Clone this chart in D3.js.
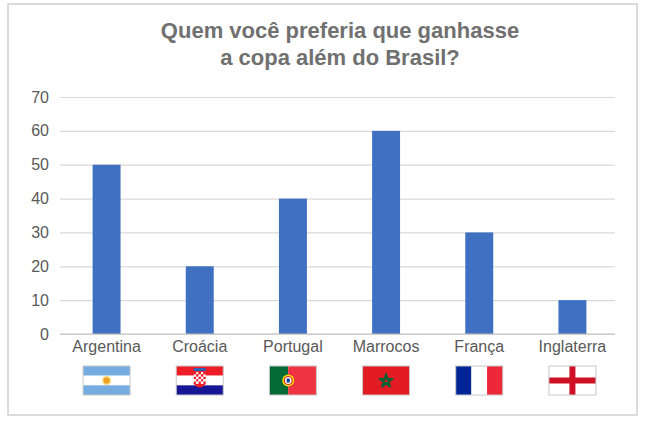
<!doctype html>
<html>
<head>
  <script src="https://cdnjs.cloudflare.com/ajax/libs/d3/7.8.5/d3.min.js"></script>
  <style>
    body { margin: 0; background: #fff; }
    text { font-family: "Liberation Sans", Arial, sans-serif; }
  </style>
</head>
<body>
  <svg id="chart" width="648" height="421"></svg>
  <script>
    var categories = ["Argentina", "Croácia", "Portugal", "Marrocos", "França", "Inglaterra"];
    var values = [50, 20, 40, 60, 30, 10];
    var yTicks = [0, 10, 20, 30, 40, 50, 60, 70];
    var titleLines = ["Quem você preferia que ganhasse", "a copa além do Brasil?"];

    var svg = d3.select("#chart");

    // outer frame
    svg.append("rect")
      .attr("x", 8).attr("y", 4).attr("width", 629).attr("height", 411)
      .attr("fill", "#fff").attr("stroke", "#d0d0d0").attr("stroke-width", 1.5);

    svg.selectAll("text.title").data(titleLines).enter().append("text")
      .attr("class", "title")
      .attr("x", 340).attr("y", (d, i) => 38 + i * 27)
      .attr("text-anchor", "middle")
      .attr("font-size", 22).attr("font-weight", "bold")
      .attr("fill", "#707070")
      .text(d => d);

    var x = d3.scaleBand().domain(categories).range([60, 619]).paddingInner(0.7).paddingOuter(0.35);
    var y = d3.scaleLinear().domain([0, 70]).range([334, 97]);

    // gridlines + y labels
    var yAxis = d3.axisLeft(y).tickValues(yTicks).tickSize(-555).tickPadding(11).tickFormat(d3.format("d"));
    var yg = svg.append("g").attr("transform", "translate(60,0)").call(yAxis);
    yg.select(".domain").remove();
    yg.selectAll(".tick line").attr("stroke", "#d9d9d9").attr("stroke-width", 1.2);
    yg.selectAll(".tick text").attr("fill", "#595959").attr("font-size", 16)
      .style("font-family", "'Liberation Sans', Arial, sans-serif");

    svg.selectAll("rect.bar").data(values).enter().append("rect")
      .attr("class", "bar")
      .attr("x", (d, i) => x(categories[i]))
      .attr("y", d => y(d))
      .attr("width", x.bandwidth())
      .attr("height", d => y(0) - y(d))
      .attr("fill", "#4070c2");

    // baseline
    svg.append("line").attr("x1", 60).attr("x2", 615).attr("y1", y(0)).attr("y2", y(0))
      .attr("stroke", "#bfbfbf").attr("stroke-width", 1.2);

    var xAxis = d3.axisBottom(x).tickSize(0).tickPadding(7);
    var xg = svg.append("g").attr("transform", "translate(0," + y(0) + ")").call(xAxis);
    xg.select(".domain").remove();
    xg.selectAll(".tick text").attr("fill", "#595959").attr("font-size", 16)
      .style("font-family", "'Liberation Sans', Arial, sans-serif");

    // flags
    var fw = 47, fh = 29, fy = 366;
    function flag(name) {
      var cx = x(name) + x.bandwidth() / 2;
      var g = svg.append("g").attr("transform", "translate(" + (cx - fw / 2) + "," + fy + ")");
      return g;
    }
    function r(g, x0, y0, w, h, c) {
      g.append("rect").attr("x", x0).attr("y", y0).attr("width", w).attr("height", h).attr("fill", c);
    }
    function border(g) {
      g.append("rect").attr("width", fw).attr("height", fh).attr("fill", "none")
        .attr("stroke", "#c8c8c8").attr("stroke-width", 1);
    }

    var g;
    // Argentina
    g = flag("Argentina");
    r(g, 0, 0, fw, fh / 3, "#74acdf"); r(g, 0, fh / 3, fw, fh / 3, "#fff"); r(g, 0, 2 * fh / 3, fw, fh / 3, "#74acdf");
    g.append("circle").attr("cx", fw / 2).attr("cy", fh / 2).attr("r", 4.5).attr("fill", "#f6b40e").attr("opacity", 0.55);
    g.append("circle").attr("cx", fw / 2).attr("cy", fh / 2).attr("r", 3).attr("fill", "#f0a020");
    border(g);

    // Croacia
    g = flag("Croácia");
    r(g, 0, 0, fw, fh / 3, "#ee1c25"); r(g, 0, fh / 3, fw, fh / 3, "#fff"); r(g, 0, 2 * fh / 3, fw, fh / 3, "#171796");
    var sx = fw / 2 - 6, sy = 6, cs = 2.4;
    for (var i = 0; i < 5; i++) for (var j = 0; j < 5; j++)
      r(g, sx + j * cs, sy + i * cs, cs, cs, (i + j) % 2 === 0 ? "#ee1c25" : "#fff");
    g.append("path").attr("d", "M" + (sx) + "," + (sy + 12) + " Q" + (fw / 2) + "," + (sy + 19) + " " + (sx + 12) + "," + (sy + 12) + " Z")
      .attr("fill", "#ee1c25");
    r(g, sx, 2, 12, 3, "#3060b0");
    border(g);

    // Portugal
    g = flag("Portugal");
    r(g, 0, 0, fw * 0.4, fh, "#046a38"); r(g, fw * 0.4, 0, fw * 0.6, fh, "#ef3340");
    g.append("circle").attr("cx", fw * 0.4).attr("cy", fh / 2).attr("r", 6).attr("fill", "#ffe000");
    g.append("circle").attr("cx", fw * 0.4).attr("cy", fh / 2).attr("r", 4).attr("fill", "#fff").attr("stroke", "#da291c").attr("stroke-width", 1.2);
    r(g, fw * 0.4 - 1.5, fh / 2 - 2, 3, 4, "#003399");
    border(g);

    // Marrocos
    g = flag("Marrocos");
    r(g, 0, 0, fw, fh, "#e31b23");
    var star = [];
    for (var k = 0; k < 5; k++) {
      var a = -Math.PI / 2 + k * 4 * Math.PI / 5;
      star.push([fw / 2 + 7 * Math.cos(a), fh / 2 + 0.5 + 7 * Math.sin(a)]);
    }
    g.append("path").attr("d", "M" + star.map(p => p.join(",")).join("L") + "Z")
      .attr("fill", "none").attr("stroke", "#006233").attr("stroke-width", 1.8).attr("stroke-linejoin", "round");
    border(g);

    // Franca
    g = flag("França");
    r(g, 0, 0, fw / 3, fh, "#002395"); r(g, fw / 3, 0, fw / 3, fh, "#fff"); r(g, 2 * fw / 3, 0, fw / 3, fh, "#ed2939");
    border(g);

    // Inglaterra
    g = flag("Inglaterra");
    r(g, 0, 0, fw, fh, "#fff");
    r(g, fw / 2 - 3, 0, 6, fh, "#ce1124"); r(g, 0, fh / 2 - 3, fw, 6, "#ce1124");
    border(g);
  </script>
</body>
</html>
